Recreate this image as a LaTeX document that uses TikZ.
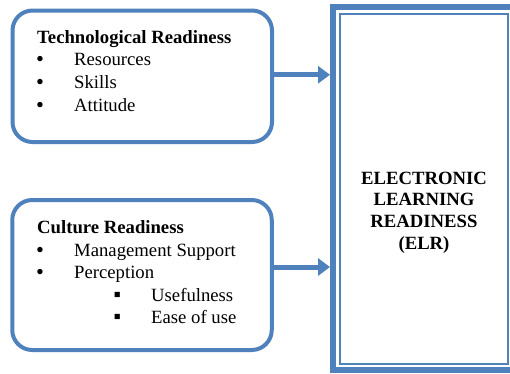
\documentclass[tikz,border=0pt]{standalone}
\usepackage{fontspec}
\setmainfont{Liberation Serif}
\newfontfamily\lserif{Liberation Serif}
\usetikzlibrary{arrows.meta}
\definecolor{boxblue}{RGB}{79,129,189}
\tikzset{
  rbox/.style={draw=boxblue, line width=4pt, rounded corners=20pt, rectangle, inner sep=0pt, minimum width=259.5pt},
  arr/.style={draw=boxblue, line width=5pt, -{Triangle[length=12pt,width=17pt]}},
  txt/.style={inner sep=0pt, anchor=base west, font=\lserif\fontsize{18.7}{22}\selectfont},
  btxt/.style={inner sep=0pt, anchor=base west, font=\lserif\fontsize{18.7}{22}\selectfont\bfseries},
  ctxt/.style={inner sep=0pt, anchor=base, font=\lserif\fontsize{18.7}{22}\selectfont\bfseries},
  bul/.style={inner sep=0pt, anchor=base west, font=\lserif\fontsize{22.5}{22}\selectfont},
  sq/.style={inner sep=0pt, anchor=base west, font=\lserif\fontsize{21}{21}\selectfont}
}
\begin{document}
\begin{tikzpicture}[x=1pt,y=-1pt]
\useasboundingbox (0,0) rectangle (510,373);
\clip (0,0) rectangle (510,373);
% left boxes
\node[rbox, minimum height=131.5pt] (tech) at (142.25,76.25) {};
\node[rbox, minimum height=150pt] (cult) at (142,275) {};
% ELR box
\node[draw=boxblue, line width=6pt, rectangle, inner sep=0pt, minimum width=180pt, minimum height=363pt] (elr) at (423,188.5) {};
\node[draw=boxblue, line width=2pt, rectangle, inner sep=0pt, minimum width=168.5pt, minimum height=350.5pt] (elrin) at (423.75,188.75) {};
% texts box 1
\node[btxt] (t0) at (37,43) {Technological Readiness};
\node[bul] (t1b) at (36,66) {•};
\node[txt] (t1) at (74,65) {Resources};
\node[bul] (t2b) at (36,89) {•};
\node[txt] (t2) at (74,88) {Skills};
\node[bul] (t3b) at (36,112.5) {•};
\node[txt] (t3) at (74,111.5) {Attitude};
% texts box 2
\node[btxt] (c0) at (37,233) {Culture Readiness};
\node[bul] (c1b) at (36,257) {•};
\node[txt] (c1) at (74,256) {Management Support};
\node[bul] (c2b) at (36,279.5) {•};
\node[txt] (c2) at (74,278.5) {Perception};
\node[sq] (c3b) at (113.5,301.5) {▪};
\node[txt] (c3) at (151,301) {Usefulness};
\node[sq] (c4b) at (113.5,323.5) {▪};
\node[txt] (c4) at (151,323) {Ease of use};
% ELR text
\node[ctxt] (e1) at (424,184.3) {ELECTRONIC};
\node[ctxt] (e2) at (424,205.8) {LEARNING};
\node[ctxt] (e3) at (424,227.5) {READINESS};
\node[ctxt] (e4) at (424,249.3) {(ELR)};
% arrows
\draw[arr] ([yshift=1.5pt]tech.east) -- ([yshift=1.5pt]tech.east -| elr.west);
\draw[arr] ([yshift=8pt]cult.east) -- ([yshift=8pt]cult.east -| elr.west);
\end{tikzpicture}
\end{document}
